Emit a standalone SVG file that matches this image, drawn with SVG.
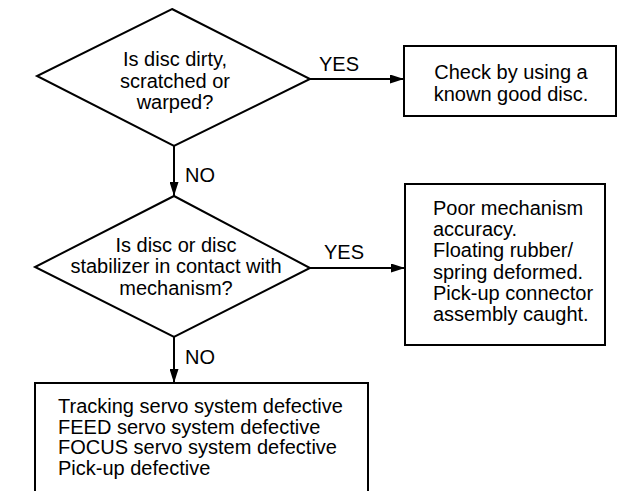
<svg xmlns="http://www.w3.org/2000/svg" width="627" height="491" viewBox="0 0 627 491">
<defs>
<style>
.s{fill:none;stroke:#000;stroke-width:2}
.n{fill:#fff;stroke:#000;stroke-width:2}
text{font-family:"Liberation Sans",Arial,sans-serif;font-size:20px;fill:#000}
.c{text-anchor:middle}
</style>
<marker id="a" markerWidth="14" markerHeight="9" refX="14" refY="4.5" orient="auto" markerUnits="userSpaceOnUse">
<path d="M0,0 L14,4.5 L0,9 z" fill="#000"/>
</marker>
</defs>
<rect width="627" height="491" fill="#fff"/>
<g id="connectors">
<line class="s" x1="174" y1="146" x2="174" y2="196" marker-end="url(#a)"/>
<line class="s" x1="310" y1="79" x2="404" y2="79" marker-end="url(#a)"/>
<line class="s" x1="310" y1="268" x2="405" y2="268" marker-end="url(#a)"/>
<line class="s" x1="174" y1="337" x2="174" y2="383" marker-end="url(#a)"/>
<text x="319" y="71">YES</text>
<text x="185" y="182">NO</text>
<text x="324" y="259">YES</text>
<text x="185" y="364">NO</text>
</g>
<g id="d1">
<polygon class="n" points="172,9 310,79 174,146 37,76"/>
<text class="c" x="175" y="66">Is disc dirty,</text>
<text class="c" x="175" y="88">scratched or</text>
<text class="c" x="175" y="109">warped?</text>
</g>
<g id="b1">
<rect class="n" x="404" y="46" width="212" height="70"/>
<text class="c" x="511" y="79">Check by using a</text>
<text class="c" x="511" y="101">known good disc.</text>
</g>
<g id="d2">
<polygon class="n" points="174,196 310,268 174,337 35,267"/>
<text class="c" x="176" y="252">Is disc or disc</text>
<text class="c" x="176" y="273">stabilizer in contact with</text>
<text class="c" x="176" y="295">mechanism?</text>
</g>
<g id="b2">
<rect class="n" x="405" y="184" width="200" height="161"/>
<text x="433" y="215">Poor mechanism</text>
<text x="433" y="236">accuracy.</text>
<text x="433" y="257">Floating rubber/</text>
<text x="433" y="279">spring deformed.</text>
<text x="433" y="300">Pick-up connector</text>
<text x="433" y="321">assembly caught.</text>
</g>
<g id="b3">
<path class="s" d="M35,495 V383 H368 V495"/>
<text x="58" y="413">Tracking servo system defective</text>
<text x="58" y="434">FEED servo system defective</text>
<text x="58" y="454">FOCUS servo system defective</text>
<text x="58" y="475">Pick-up defective</text>
</g>
</svg>
